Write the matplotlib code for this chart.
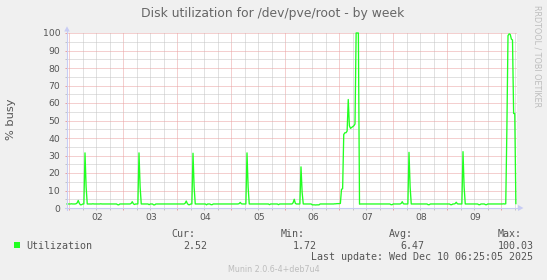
import numpy as np
import matplotlib
matplotlib.use("Agg")
import matplotlib.pyplot as plt
import matplotlib.dates as mdates
from matplotlib.ticker import MultipleLocator, NullFormatter, FormatStrFormatter
from matplotlib.patches import Rectangle, Polygon
from matplotlib.lines import Line2D

# ---------------- data ----------------
title = "Disk utilization for /dev/pve/root - by week"
ylabel = "% busy"
series_name = "Utilization"
day_labels = ["02", "03", "04", "05", "06", "07", "08", "09"]
stat_names = ["Cur:", "Min:", "Avg:", "Max:"]
stat_values = ["2.52", "1.72", "6.47", "100.03"]
last_update = "Last update: Wed Dec 10 06:25:05 2025"
footer = "Munin 2.0.6-4+deb7u4"
watermark = "RRDTOOL / TOBI OETIKER"

series_start = "2025-12-01T23:00"   # first 30-minute sample
view_start = "2025-12-01T23:00"
view_end = "2025-12-10T07:00"

dec01 = [2.3, 2.3]
dec02 = [2.3, 2.3, 2.4, 2.3, 2.3, 2.3, 2.4, 2.9, 4.3, 2.6, 1.8, 1.9,
         2.3, 2.3, 31.5, 12.0, 2.3, 2.3, 2.3, 2.3, 2.3, 2.4, 2.3, 2.3,
         2.3, 2.3, 2.3, 2.3, 2.4, 2.3, 2.3, 2.3, 2.3, 2.3, 2.3, 2.3,
         2.3, 2.3, 2.3, 2.3, 2.3, 2.3, 2.3, 1.9, 1.8, 2.3, 2.3, 2.3]
dec03 = [2.3, 2.3, 2.3, 2.3, 2.3, 2.3, 2.3, 2.6, 3.6, 2.4, 2.0, 2.3,
         2.3, 2.3, 31.5, 12.0, 2.3, 2.3, 2.3, 2.3, 2.3, 2.3, 2.3, 1.9,
         2.3, 2.3, 2.3, 1.8, 1.8, 2.3, 2.3, 2.3, 2.3, 2.3, 2.3, 2.3,
         2.3, 2.3, 2.3, 2.3, 2.3, 2.3, 2.3, 2.3, 2.3, 2.3, 2.3, 2.3]
dec04 = [2.3, 2.3, 2.3, 2.3, 2.3, 2.3, 2.3, 2.7, 4.0, 2.5, 1.9, 1.9,
         2.3, 2.3, 31.3, 12.0, 2.3, 2.3, 2.3, 2.3, 2.3, 2.3, 2.3, 2.3,
         2.3, 2.3, 1.8, 2.3, 2.3, 2.3, 1.9, 1.9, 2.3, 2.3, 2.3, 2.3,
         2.3, 2.3, 2.3, 2.3, 2.3, 2.3, 2.3, 2.3, 2.3, 2.3, 2.3, 2.3]
dec05 = [2.3, 2.3, 2.3, 2.3, 2.3, 2.3, 2.3, 2.5, 3.2, 2.4, 2.3, 2.3,
         2.3, 2.3, 31.5, 12.0, 2.3, 2.3, 2.3, 2.3, 2.3, 2.3, 2.3, 2.3,
         2.3, 2.3, 2.3, 2.3, 2.3, 2.3, 2.3, 2.3, 2.3, 2.3, 1.9, 2.3,
         2.3, 2.3, 2.3, 2.3, 2.3, 2.3, 1.9, 2.3, 2.3, 2.3, 2.3, 2.3]
dec06 = [2.3, 2.3, 2.3, 2.3, 2.3, 2.3, 2.3, 3.0, 5.0, 2.6, 2.3, 2.3,
         2.3, 2.3, 23.5, 9.0, 2.3, 2.3, 2.3, 2.3, 2.3, 2.3, 2.3, 2.3,
         1.8, 1.8, 1.8, 1.72, 1.8, 1.8, 1.8, 2.3, 2.3, 2.3, 2.3, 2.3,
         2.3, 2.3, 2.3, 2.3, 2.3, 2.3, 2.3, 2.3, 2.4, 2.4, 2.5, 2.5]
dec07 = [2.5, 2.6, 10.7, 11.0, 42.0, 43.0, 43.0, 44.0, 62.0, 47.0, 45.5, 46.0,
         46.5, 47.0, 48.0, 100.0, 100.03, 100.0, 2.2, 2.3, 2.3, 2.3, 2.3, 2.3,
         2.3, 2.3, 2.3, 2.3, 2.3, 2.3, 2.3, 2.3, 2.3, 2.3, 2.3, 2.3,
         2.3, 2.3, 2.3, 2.3, 2.3, 2.3, 2.3, 2.3, 2.3, 2.3, 1.9, 1.9]
dec08 = [2.3, 2.3, 2.3, 2.3, 2.3, 2.3, 2.3, 2.6, 3.6, 2.4, 2.3, 2.3,
         2.3, 2.3, 31.8, 12.0, 2.3, 2.3, 2.3, 2.3, 2.3, 2.3, 2.3, 2.3,
         2.3, 2.3, 2.3, 2.3, 2.3, 2.3, 2.3, 1.9, 1.9, 2.3, 2.3, 2.3,
         2.3, 2.3, 2.3, 2.3, 2.3, 2.3, 2.3, 2.3, 2.3, 2.3, 2.3, 2.3]
dec09 = [2.3, 2.3, 2.3, 1.9, 1.9, 2.3, 2.3, 2.5, 3.3, 2.4, 2.3, 2.3,
         2.3, 2.3, 32.2, 12.0, 2.3, 2.3, 2.3, 2.3, 2.3, 2.3, 2.3, 2.3,
         2.3, 2.3, 2.3, 2.3, 1.9, 1.9, 2.3, 2.3, 2.3, 2.3, 1.9, 1.9,
         2.3, 2.3, 2.3, 2.3, 2.3, 2.3, 2.3, 2.3, 2.3, 2.3, 2.3, 2.3]
dec10 = [2.3, 2.3, 2.4, 2.3, 2.4, 45.0, 98.5, 99.5, 99.2, 96.5, 96.0, 54.0,
         54.0, 2.52]

# ---------------- style ----------------
W, H = 547, 280
BACK = "#F0F0F0"
LINE = "#22FF22"
FONT = "#555555"
MGRID = "#EBA0A0"
GRID = "#C4C4C4"
AXIS = "#C8CCF4"
LIGHT = "#BDBDBD"


def fx(x):
    return x / W


def fy(y):
    return 1 - y / H


values = np.array(dec01 + dec02 + dec03 + dec04 + dec05 + dec06 + dec07 +
                  dec08 + dec09 + dec10)
times = np.datetime64(series_start) + np.arange(len(values)) * np.timedelta64(30, "m")

fig = plt.figure(figsize=(W / 100, H / 100), dpi=100, facecolor=BACK)
ax = fig.add_axes([fx(67), fy(208), 450 / W, 175 / H], facecolor="white")

ax.plot(times, values, color=LINE, lw=0.95, clip_on=False, zorder=5)

ax.set_xlim(np.datetime64(view_start), np.datetime64(view_end))
ax.set_ylim(0, 100)

ax.xaxis.set_major_locator(mdates.DayLocator())
ax.xaxis.set_minor_locator(mdates.HourLocator(byhour=[0, 6, 12, 18]))
ax.xaxis.set_major_formatter(NullFormatter())
ax.xaxis.set_minor_formatter(NullFormatter())
ax.yaxis.set_major_locator(MultipleLocator(10))
ax.yaxis.set_minor_locator(MultipleLocator(5))
ax.yaxis.set_major_formatter(FormatStrFormatter("%d"))

ax.set_axisbelow(True)
ax.grid(which="major", color=MGRID, lw=0.72, linestyle=(0, (1, 1)))
ax.grid(which="minor", color=GRID, lw=0.72, linestyle=(0, (1, 1)))

for s in ax.spines.values():
    s.set_visible(False)

ax.tick_params(which="major", length=1.5, width=0.72, color=MGRID,
               labelsize=6.7, labelcolor=FONT, pad=3.4)
ax.tick_params(which="minor", length=1.5, width=0.72, color=GRID)

for lab in day_labels:
    noon = np.datetime64(f"2025-12-{lab}T12:00")
    ax.annotate(lab, xy=(noon, 0), xycoords=("data", "axes fraction"),
                xytext=(1.0, -6.8), textcoords="offset points",
                ha="center", va="center", fontsize=6.7, color=FONT,
                annotation_clip=False)

# axes lines with arrows (rrdtool style)
fig.add_artist(Line2D([fx(65), fx(519)], [fy(208), fy(208)], color=AXIS,
                      lw=0.8, transform=fig.transFigure))
fig.add_artist(Line2D([fx(67), fx(67)], [fy(210), fy(30)], color=AXIS,
                      lw=0.8, transform=fig.transFigure))
fig.add_artist(Polygon([(fx(518), fy(205)), (fx(518), fy(211)), (fx(523.5), fy(208))],
                       closed=True, color=AXIS, transform=fig.transFigure, lw=0))
fig.add_artist(Polygon([(fx(64.2), fy(31.5)), (fx(69.8), fy(31.5)), (fx(67), fy(26.3))],
                       closed=True, color=AXIS, transform=fig.transFigure, lw=0))

# texts
fig.text(fx(273), fy(13.6), title, ha="center", va="center", fontsize=8.9,
         color="#666666", family="DejaVu Sans")
fig.text(fx(11), fy(119), ylabel, ha="center", va="center", rotation=90,
         fontsize=8.2, color=FONT, family="DejaVu Sans")
fig.text(fx(536.7), fy(56.5), watermark, ha="center", va="center", rotation=270,
         fontsize=5.8, color=LIGHT, family="DejaVu Sans")
fig.text(fx(274), fy(271.5), footer, ha="center", va="baseline", fontsize=5.8,
         color=LIGHT, family="DejaVu Sans")

# legend
mono = dict(family="DejaVu Sans Mono", fontsize=7.2, color=FONT, va="baseline")
fig.add_artist(Rectangle((fx(14), fy(248.3)), 6 / W, 6.5 / H, color=LINE,
                         transform=fig.transFigure, lw=0))
fig.text(fx(26.4), fy(249.2), series_name, ha="left", **mono)
name_x = [171.4, 280.4, 388.7, 497.4]
value_x = [183.4, 292.4, 400.0, 497.4]
for nx, vx, n, v in zip(name_x, value_x, stat_names, stat_values):
    fig.text(fx(nx), fy(237.3), n, ha="left", **mono)
    fig.text(fx(vx), fy(249.2), v, ha="left", **mono)
fig.text(fx(311.4), fy(260.5), last_update, ha="left", **mono)

fig.savefig("out.png", dpi=100, facecolor=BACK)
